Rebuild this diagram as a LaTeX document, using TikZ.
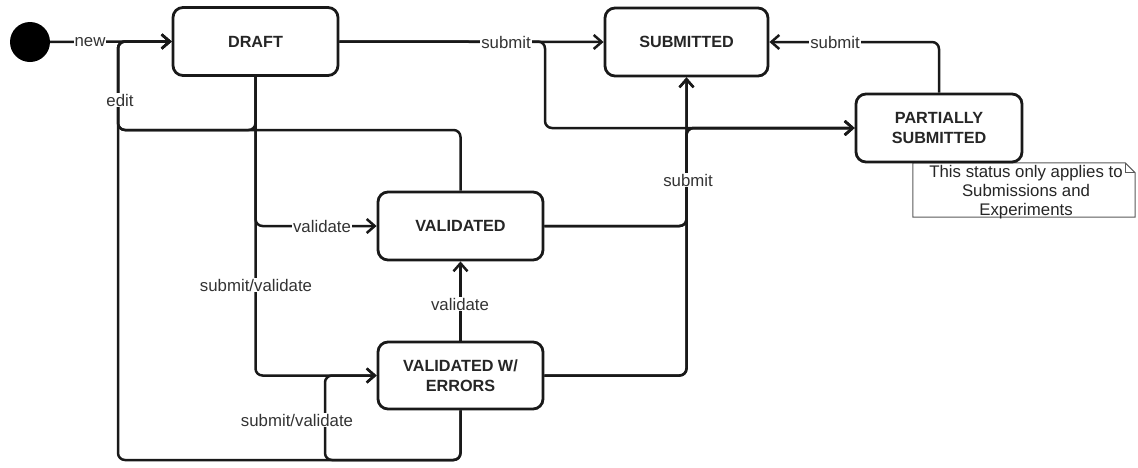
\documentclass[tikz,border=0pt]{standalone}
\usepackage{fontspec}
\setmainfont{Liberation Sans}
\usetikzlibrary{arrows.meta}
\tikzset{
  state/.style={draw=black!90, line width=2.8pt, rounded corners=10pt, fill=white,
    minimum width=165pt, minimum height=68pt, align=center, inner sep=2pt,
    font=\fontsize{16.2pt}{19.5pt}\selectfont\bfseries, text=black!85},
  edge/.style={draw=black!90, line width=2.5pt, rounded corners=7pt},
  arr/.style={edge, -{Straight Barb[length=8pt,width=14pt]}},
  lbl/.style={fill=white, inner sep=1pt, font=\fontsize{16.8pt}{19pt}\selectfont, text=black!80},
  notebox/.style={minimum width=222pt, minimum height=54pt, inner sep=0pt, align=center,
    font=\fontsize{16.8pt}{19pt}\selectfont, text=black!85},
}
\begin{document}
\begin{tikzpicture}[x=1pt, y=-1pt]
\useasboundingbox (0,0) rectangle (1138,467);

% states
\node[circle, fill=black, minimum size=40pt, inner sep=0pt] (start) at (30,42) {};
\node[state] (draft) at (255.5,41.5) {DRAFT};
\node[state, minimum width=163pt] (submitted) at (686.5,42) {SUBMITTED};
\node[state] (validated) at (460.5,226) {VALIDATED};
\node[state, minimum height=67pt] (vwe) at (460.5,375.5) {VALIDATED W/\\ERRORS};

% note attached to the partially submitted state
\node[notebox] (note) at (1024,190) {};
\draw[draw=black!65, fill=white, line width=1pt]
  (note.south west) -- (note.north west) -- ([xshift=-10pt]note.north east)
  -- ([yshift=-10pt]note.north east) -- (note.south east) -- cycle;
\draw[draw=black!65, line width=1pt]
  ([xshift=-10pt]note.north east) |- ([yshift=-10pt]note.north east);
\node[notebox] (noteText) at ([xshift=2pt,yshift=-2pt]note.center) {This status only applies to\\Submissions and\\Experiments};

\node[state, minimum width=166pt] (partial) at (939,128) {PARTIALLY\\SUBMITTED};

% routing lanes
\coordinate (laneEdit) at (118,130);
\coordinate (laneBottom) at (118,460);
\coordinate (laneSelf) at (325,460);
\coordinate (laneDraftPart) at (545,128);
\coordinate (laneSubPart) at (686.5,128);

% transitions
\draw[arr] (start) -- (draft.west);
\draw[arr] (draft.south) |- (laneEdit) |- (draft.west);
\draw[arr] (validated.north) |- (laneEdit) |- (draft.west);
\draw[arr] (vwe.south) |- (laneBottom) |- (draft.west);
\draw[arr] (draft.east) -- (submitted.west);
\draw[arr] (draft.east) -| (laneDraftPart) -- (partial.west);
\draw[arr] (validated.east) -| (submitted.south);
\draw[arr] (validated.east) -| (laneSubPart) -- (partial.west);
\draw[arr] (vwe.east) -| (submitted.south);
\draw[arr] (vwe.east) -| (laneSubPart) -- (partial.west);
\draw[arr] (vwe.north) -- (validated.south);
\draw[arr] (draft.south) |- (validated.west);
\draw[arr] (draft.south) |- (vwe.west);
\draw[arr] (vwe.south) |- (laneSelf) |- (vwe.west);
\draw[arr] (partial.north) |- (submitted.east);

% transition labels
\node[lbl] (lNew) at (90,42) {new};
\node[lbl] (lEdit) at (120,100) {edit};
\node[lbl] (lSubmitA) at (506,42) {submit};
\node[lbl] (lSubmitB) at (835,42) {submit};
\node[lbl] (lSubmitC) at (688,180) {submit};
\node[lbl] (lValidateA) at (322,226) {validate};
\node[lbl] (lValidateB) at (460,304) {validate};
\node[lbl] (lSubVal) at (256,285) {submit/validate};
\node[lbl] (lSubValSelf) at (297,420) {submit/validate};
\end{tikzpicture}
\end{document}
